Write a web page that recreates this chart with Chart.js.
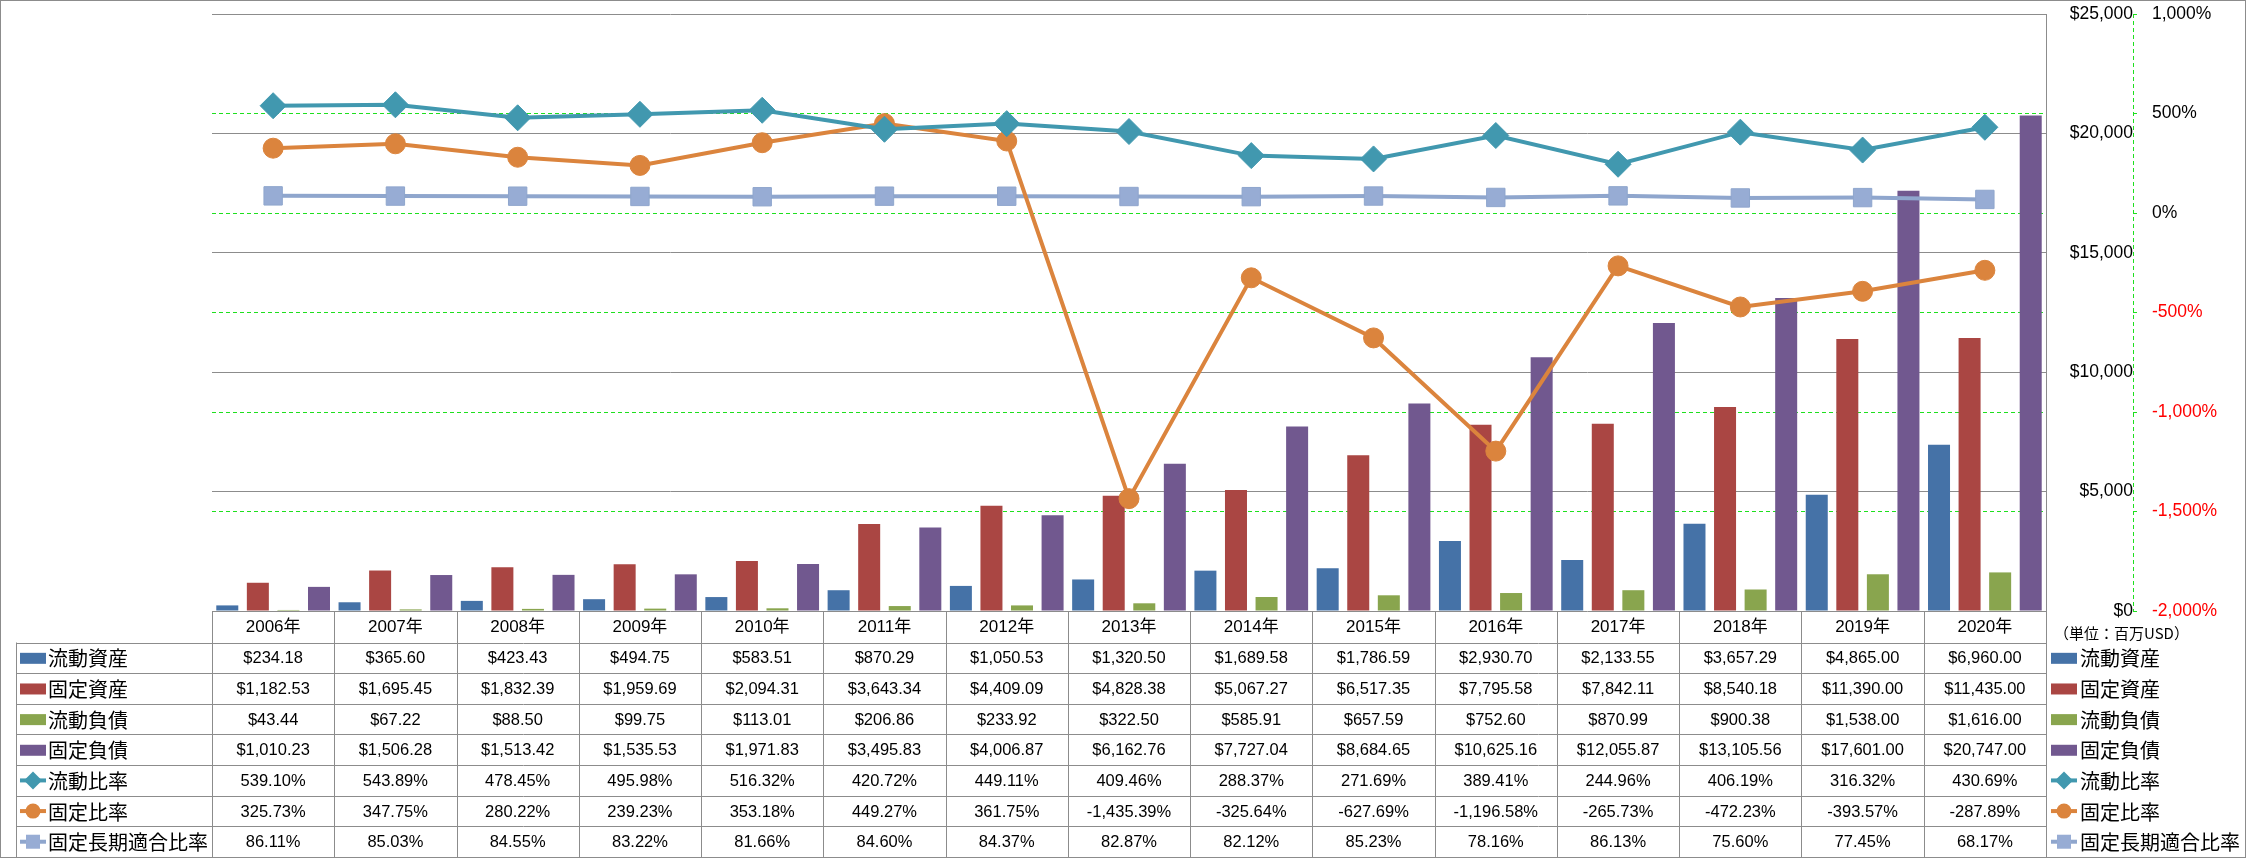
<!DOCTYPE html>
<html>
<head>
<meta charset="utf-8">
<title>財務指標の推移</title>
<script src="https://cdn.jsdelivr.net/npm/chart.js@4/dist/chart.umd.min.js"></script>
<style>
    html, body { margin: 0; padding: 0; background: #fff; }
    #chart { display: block; }
</style>
</head>
<body>
<canvas id="chart" width="2246" height="858"></canvas>
<script>
// Chart data (単位: 百万USD / %)
const years = ['2006年', '2007年', '2008年', '2009年', '2010年', '2011年', '2012年', '2013年',
    '2014年', '2015年', '2016年', '2017年', '2018年', '2019年', '2020年'];

const currentAssets = [234.18, 365.60, 423.43, 494.75, 583.51, 870.29, 1050.53, 1320.50,
    1689.58, 1786.59, 2930.70, 2133.55, 3657.29, 4865.00, 6960.00];
const fixedAssets = [1182.53, 1695.45, 1832.39, 1959.69, 2094.31, 3643.34, 4409.09, 4828.38,
    5067.27, 6517.35, 7795.58, 7842.11, 8540.18, 11390.00, 11435.00];
const currentLiabilities = [43.44, 67.22, 88.50, 99.75, 113.01, 206.86, 233.92, 322.50,
    585.91, 657.59, 752.60, 870.99, 900.38, 1538.00, 1616.00];
const fixedLiabilities = [1010.23, 1506.28, 1513.42, 1535.53, 1971.83, 3495.83, 4006.87, 6162.76,
    7727.04, 8684.65, 10625.16, 12055.87, 13105.56, 17601.00, 20747.00];

const currentRatio = [539.10, 543.89, 478.45, 495.98, 516.32, 420.72, 449.11, 409.46,
    288.37, 271.69, 389.41, 244.96, 406.19, 316.32, 430.69];
const fixedRatio = [325.73, 347.75, 280.22, 239.23, 353.18, 449.27, 361.75, -1435.39,
    -325.64, -627.69, -1196.58, -265.73, -472.23, -393.57, -287.89];
const fixedLongTermRatio = [86.11, 85.03, 84.55, 83.22, 81.66, 84.60, 84.37, 82.87,
    82.12, 85.23, 78.16, 86.13, 75.60, 77.45, 68.17];

const moneyTicks = { min: 0, max: 25000, step: 5000 };
const ratioTicks = { min: -2000, max: 1000, step: 500 };
const unitLabel = '（単位：百万USD）';

const NUM_FONT = '"Liberation Sans", "Noto Sans CJK JP", sans-serif';
const CJK_FONT = '"Noto Sans CJK JP", sans-serif';
const GRID_GRAY = '#8c8c8c';
const GRID_GREEN = '#1ee01e';

const fmtMoney = v => '$' + v.toLocaleString('en-US', { minimumFractionDigits: 2, maximumFractionDigits: 2 });
const fmtPct = v => v.toLocaleString('en-US', { minimumFractionDigits: 2, maximumFractionDigits: 2 }) + '%';

const barSet = (label, data, color) => ({
    type: 'bar', label, data, yAxisID: 'y', order: 2,
    backgroundColor: color, borderWidth: 0,
    barPercentage: 0.72, categoryPercentage: 1.0
});

const lineSet = (label, data, color, pointStyle, radius, fill) => ({
    type: 'line', label, data, yAxisID: 'y1', order: 1,
    borderColor: color, borderWidth: 4,
    pointStyle, pointRadius: radius, pointBorderWidth: 1,
    pointBackgroundColor: fill || color, pointBorderColor: color,
    tension: 0
});

const datasets = [
    barSet('流動資産', currentAssets, '#4572a7'),
    barSet('固定資産', fixedAssets, '#aa4643'),
    barSet('流動負債', currentLiabilities, '#89a54e'),
    barSet('固定負債', fixedLiabilities, '#71588f'),
    lineSet('流動比率', currentRatio, '#4198af', 'rectRot', 13),
    lineSet('固定比率', fixedRatio, '#db843d', 'circle', 10),
    lineSet('固定長期適合比率', fixedLongTermRatio, '#8fa6cd', 'rect', 13, '#97acd4')
];

// legend swatch used in the table and in the right-side legend
function drawSwatch(ctx, ds, x, y) {
    ctx.save();
    if (ds.type === 'bar') {
        ctx.fillStyle = ds.backgroundColor;
        ctx.fillRect(x, y - 5, 26, 11);
    } else {
        ctx.strokeStyle = ds.borderColor;
        ctx.lineWidth = 4;
        ctx.beginPath();
        ctx.moveTo(x, y);
        ctx.lineTo(x + 26, y);
        ctx.stroke();
        ctx.fillStyle = ds.pointBackgroundColor;
        ctx.beginPath();
        if (ds.pointStyle === 'rectRot') {
            ctx.moveTo(x + 13, y - 9); ctx.lineTo(x + 22, y); ctx.lineTo(x + 13, y + 9); ctx.lineTo(x + 4, y);
        } else if (ds.pointStyle === 'circle') {
            ctx.arc(x + 13, y, 7.5, 0, Math.PI * 2);
        } else {
            ctx.rect(x + 6, y - 7, 14, 14);
        }
        ctx.closePath();
        ctx.fill();
    }
    ctx.restore();
}

const tablePlugin = {
    id: 'dataTable',
    afterDraw(chart) {
        const { ctx, chartArea } = chart;
        const xs = chart.scales.x;
        const y1 = chart.scales.y1;
        const step = xs.getPixelForValue(1) - xs.getPixelForValue(0);
        const left = chartArea.left, right = chartArea.right, top = chartArea.bottom;
        const labelLeft = 16;
        const headH = 31.5, rowH = 30.65;
        const bottom = top + headH + rowH * 7;
        const crisp = v => Math.round(v) + 0.5;

        ctx.save();

        // dashed % axis line
        ctx.strokeStyle = GRID_GREEN;
        ctx.lineWidth = 1;
        ctx.setLineDash([4, 3]);
        ctx.beginPath();
        ctx.moveTo(crisp(y1.left), y1.top);
        ctx.lineTo(crisp(y1.left), y1.bottom);
        ctx.stroke();
        ctx.setLineDash([]);

        // table grid
        ctx.strokeStyle = GRID_GRAY;
        ctx.beginPath();
        for (let i = 0; i <= years.length; i++) {
            const bx = crisp(left + i * step);
            ctx.moveTo(bx, top);
            ctx.lineTo(bx, bottom);
        }
        ctx.moveTo(crisp(labelLeft), top + headH);
        ctx.lineTo(crisp(labelLeft), bottom);
        for (let r = 0; r <= 7; r++) {
            const ry = crisp(top + headH + r * rowH);
            ctx.moveTo(labelLeft, ry);
            ctx.lineTo(right, ry);
        }
        ctx.stroke();

        // outer border
        ctx.strokeRect(0.5, 0.5, chart.width - 1, chart.height - 1);

        // header row
        ctx.fillStyle = '#000';
        ctx.textAlign = 'center';
        ctx.textBaseline = 'middle';
        ctx.font = '17px ' + NUM_FONT;
        years.forEach((yr, i) => {
            ctx.fillText(yr, xs.getPixelForValue(i), top + headH / 2 + 1);
        });

        // data rows + legends
        datasets.forEach((ds, r) => {
            const cy = top + headH + r * rowH + rowH / 2;
            const fmt = ds.type === 'bar' ? fmtMoney : fmtPct;
            ctx.font = '16.5px ' + NUM_FONT;
            ctx.textAlign = 'center';
            ds.data.forEach((v, i) => {
                ctx.fillText(fmt(v), xs.getPixelForValue(i), cy + 1);
            });

            ctx.textAlign = 'left';
            ctx.font = '20px ' + CJK_FONT;
            drawSwatch(ctx, ds, 20, cy);
            ctx.fillText(ds.label, 48, cy + 1);
            drawSwatch(ctx, ds, 2051, cy);
            ctx.fillText(ds.label, 2080, cy + 1);
        });

        ctx.font = '15px ' + CJK_FONT;
        ctx.textAlign = 'left';
        ctx.fillText(unitLabel, 2054, top + 22);

        ctx.restore();
    }
};

const chart = new Chart(document.getElementById('chart'), {
    data: { labels: years, datasets },
    plugins: [tablePlugin],
    options: {
        responsive: false,
        animation: false,
        devicePixelRatio: 1,
        layout: { padding: { left: 212, top: 13, right: 0, bottom: 247 } },
        plugins: {
            legend: { display: false },
            tooltip: { enabled: false }
        },
        scales: {
            x: {
                type: 'category',
                display: false,
                offset: true
            },
            y: {
                position: 'right',
                min: moneyTicks.min,
                max: moneyTicks.max,
                grid: { color: GRID_GRAY, drawTicks: false },
                border: { display: true, color: GRID_GRAY },
                ticks: {
                    stepSize: moneyTicks.step,
                    crossAlign: 'far',
                    padding: 20,
                    color: '#000',
                    font: { family: NUM_FONT, size: 17.5 },
                    callback: v => '$' + v.toLocaleString('en-US')
                },
                afterFit(scale) {
                    scale.width = 87;
                    scale.paddingTop = 0;
                    scale.paddingBottom = 0;
                }
            },
            y1: {
                position: 'right',
                min: ratioTicks.min,
                max: ratioTicks.max,
                grid: {
                    color: c => (c.tick && (c.tick.value === ratioTicks.max || c.tick.value === ratioTicks.min)) ? 'rgba(0,0,0,0)' : GRID_GREEN,
                    tickColor: GRID_GREEN,
                    tickLength: 4
                },
                border: { display: false, dash: [4, 3] },
                ticks: {
                    stepSize: ratioTicks.step,
                    padding: 15,
                    color: c => c.tick.value < 0 ? '#ff0000' : '#000',
                    font: { family: NUM_FONT, size: 17.5 },
                    callback: v => v.toLocaleString('en-US') + '%'
                },
                afterFit(scale) {
                    scale.width = 113;
                    scale.paddingTop = 0;
                    scale.paddingBottom = 0;
                }
            }
        }
    }
});
</script>
</body>
</html>
